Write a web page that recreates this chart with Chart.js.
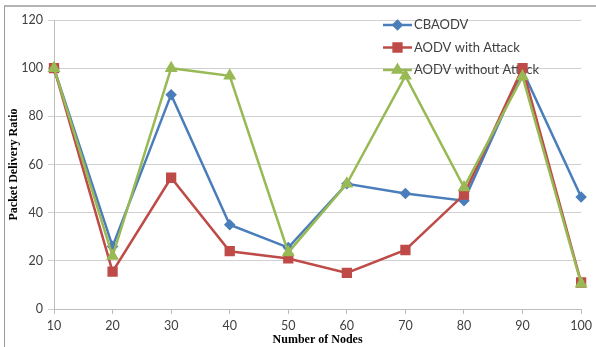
<!DOCTYPE html>
<html>
<head>
<meta charset="utf-8">
<script src="https://cdn.jsdelivr.net/npm/chart.js@4/dist/chart.umd.min.js"></script>
<style>
  html, body { margin: 0; padding: 0; background: #fff; }
  #wrap { position: relative; width: 596px; height: 347px; }
  #frame { position: absolute; left: 4px; top: 5px; right: 0; bottom: 0;
           border-top: 2px solid #b4b4b4; border-left: 1px solid #9a9a9a; pointer-events: none; }
  canvas { position: absolute; left: 0; top: 0; }
</style>
</head>
<body>
<div id="wrap">
  <canvas id="c" width="596" height="347"></canvas>
  <div id="frame"></div>
</div>
<script>
const nodes = ['10','20','30','40','50','60','70','80','90','100'];
const cbaodv = [100, 26, 89, 35, 25.5, 52, 48, 45, 99, 46.5];
const aodvWithAttack = [100, 15.5, 54.5, 24, 21, 15, 24.5, 47.5, 100, 11];
const aodvWithoutAttack = [100, 22, 100, 96.8, 23.5, 52, 96.8, 50.5, 96.5, 10.5];
const yTicks = [0, 20, 40, 60, 80, 100, 120];
const seriesNames = ['CBAODV', 'AODV with Attack', 'AODV without Attack'];

const tickFont = { family: 'Lato', size: 12.5 };
const titleFont = { family: 'Liberation Serif', size: 12, weight: 'bold' };

const legendPlugin = {
  id: 'insideLegend',
  beforeDatasetsDraw(chart) {
    const ctx = chart.ctx;
    const x0 = 383, x1 = 412, yStart = 25, gap = 22.5;
    ctx.save();
    chart.data.datasets.forEach((ds, i) => {
      const y = yStart + i * gap;
      ctx.strokeStyle = ds.borderColor;
      ctx.lineWidth = ds.borderWidth;
      ctx.beginPath();
      ctx.moveTo(x0, y);
      ctx.lineTo(x1, y);
      ctx.stroke();
      Chart.helpers.drawPoint(ctx, {
        pointStyle: ds.pointStyle,
        radius: ds.pointRadius,
        rotation: 0,
        borderWidth: 1
      }, (x0 + x1) / 2, y);
      ctx.fillStyle = ds.pointBackgroundColor;
      ctx.strokeStyle = ds.borderColor;
      ctx.fill();
      ctx.fillStyle = '#404040';
      ctx.font = '13px Lato';
      ctx.textBaseline = 'middle';
      ctx.textAlign = 'left';
      ctx.fillText(ds.label, x1 + 2, y);
    });
    ctx.restore();
  }
};

new Chart(document.getElementById('c'), {
  type: 'line',
  data: {
    labels: nodes,
    datasets: [
      { label: seriesNames[0], data: cbaodv, borderColor: '#4a7ebb', backgroundColor: '#4a7ebb',
        pointBackgroundColor: '#4a7ebb', pointBorderColor: '#4a7ebb', pointStyle: 'rectRot',
        pointRadius: 4, borderWidth: 2.5, tension: 0, order: 2 },
      { label: seriesNames[1], data: aodvWithAttack, borderColor: '#be4b48', backgroundColor: '#be4b48',
        pointBackgroundColor: '#be4b48', pointBorderColor: '#be4b48', pointStyle: 'rect',
        pointRadius: 5.5, borderWidth: 2.5, tension: 0, order: 1 },
      { label: seriesNames[2], data: aodvWithoutAttack, borderColor: '#98b954', backgroundColor: '#98b954',
        pointBackgroundColor: '#98b954', pointBorderColor: '#98b954', pointStyle: 'triangle',
        pointRadius: 5, borderWidth: 2.5, tension: 0, order: 0 }
    ]
  },
  options: {
    responsive: false,
    animation: false,
    layout: { padding: { left: 5, right: 14, top: 20, bottom: 0 } },
    plugins: { legend: { display: false }, tooltip: { enabled: false } },
    scales: {
      x: {
        type: 'category',
        offset: false,
        grid: { drawOnChartArea: false, drawTicks: true, tickLength: 5, color: '#bdbdbd' },
        border: { color: '#bdbdbd', width: 1 },
        ticks: { font: tickFont, color: '#404040', padding: 4, maxRotation: 0, autoSkip: false },
        title: { display: true, text: 'Number of Nodes', font: titleFont, color: '#000', padding: { top: 0, bottom: 0 } },
        afterFit(scale) { scale.height = 38; }
      },
      y: {
        min: 0, max: 120,
        afterBuildTicks(scale) { scale.ticks = yTicks.map(v => ({ value: v })); },
        grid: { color: '#d0d0d0', tickLength: 6, lineWidth: 1 },
        border: { color: '#bdbdbd', width: 1 },
        ticks: { font: tickFont, color: '#404040', padding: 5 },
        title: { display: true, text: 'Packet Delivery Ratio', font: titleFont, color: '#000', padding: { top: 2, bottom: 0 } },
        afterFit(scale) { scale.width = 49; }
      }
    }
  },
  plugins: [legendPlugin]
});
</script>
</body>
</html>
